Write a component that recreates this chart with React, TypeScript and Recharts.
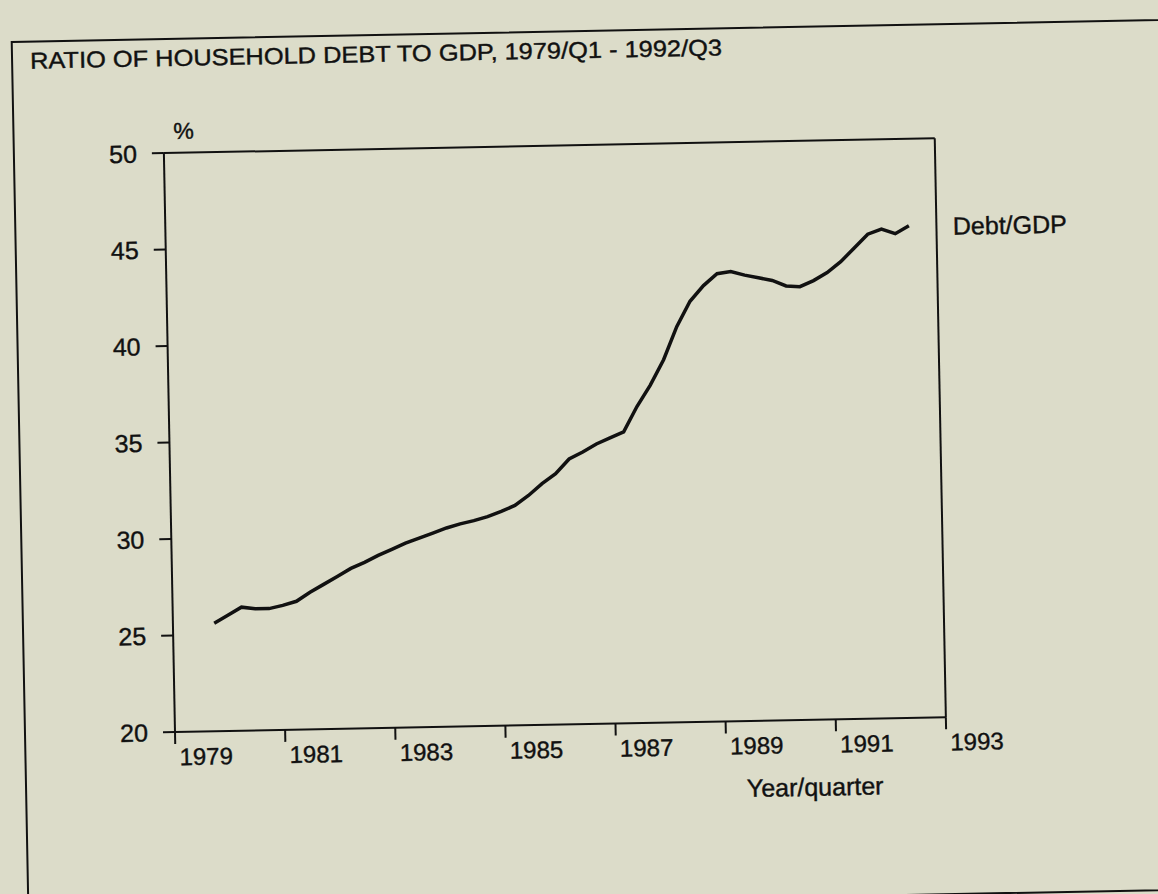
import { LineChart, Line, XAxis, YAxis, ReferenceLine } from "recharts"

const FONT = '"Liberation Sans", Arial, Helvetica, sans-serif'
const INK = "#111111"
const PAPER = "#dcdcc9"

const quarters = [
  "1979Q4",
  "1980Q1", "1980Q2", "1980Q3", "1980Q4",
  "1981Q1", "1981Q2", "1981Q3", "1981Q4",
  "1982Q1", "1982Q2", "1982Q3", "1982Q4",
  "1983Q1", "1983Q2", "1983Q3", "1983Q4",
  "1984Q1", "1984Q2", "1984Q3", "1984Q4",
  "1985Q1", "1985Q2", "1985Q3", "1985Q4",
  "1986Q1", "1986Q2", "1986Q3", "1986Q4",
  "1987Q1", "1987Q2", "1987Q3", "1987Q4",
  "1988Q1", "1988Q2", "1988Q3", "1988Q4",
  "1989Q1", "1989Q2", "1989Q3", "1989Q4",
  "1990Q1", "1990Q2", "1990Q3", "1990Q4",
  "1991Q1", "1991Q2", "1991Q3", "1991Q4",
  "1992Q1", "1992Q2", "1992Q3",
]

// household debt as % of GDP
const debtToGdp = [
  25.6,
  26.0, 26.4, 26.3, 26.3,
  26.45, 26.65, 27.1, 27.5,
  27.9, 28.3, 28.6, 28.95,
  29.25, 29.55, 29.8, 30.05,
  30.3, 30.5, 30.65, 30.85,
  31.1, 31.4, 31.9, 32.5,
  33.0, 33.75, 34.1, 34.5,
  34.8, 35.1, 36.4, 37.5,
  38.8, 40.5, 41.8, 42.6,
  43.2, 43.3, 43.1, 42.95,
  42.8, 42.5, 42.45, 42.75,
  43.15, 43.7, 44.4, 45.1,
  45.35, 45.1, 45.5,
]

const yearTicks = [1979, 1981, 1983, 1985, 1987, 1989, 1991, 1993]
const pctTicks = [20, 25, 30, 35, 40, 45, 50]

const data = quarters.map((q, i) => {
  const [yr, qq] = q.split("Q")
  return { t: Number(yr) + (Number(qq) - 1) / 4, quarter: q, debt: debtToGdp[i] }
})

// scanned print looks a little heavier than plain Liberation Sans
const inkText = { fill: INK, stroke: INK, strokeWidth: 0.4, fontFamily: FONT }

const YearTick = (props: any) => {
  const { x, y, payload } = props
  return (
    <text x={x + 4} y={y} dy="0.72em" fontSize={24} {...inkText}>
      {payload.value}
    </text>
  )
}

const PctTick = (props: any) => {
  const { x, y, payload } = props
  return (
    <text x={x} y={y} dy="0.36em" textAnchor="end" fontSize={25} {...inkText}>
      {payload.value}
    </text>
  )
}

const EndLabel = (props: any) => {
  const { x, y, index } = props
  if (index !== data.length - 1) return null
  return (
    <text x={x + 44} y={y + 10} fontSize={25} {...inkText}>
      Debt/GDP
    </text>
  )
}

export default function App() {
  return (
    <div
      style={{
        position: "absolute",
        left: 0,
        top: 0,
        width: 1158,
        height: 894,
        overflow: "hidden",
        background: PAPER,
      }}
    >
      <div
        style={{
          position: "absolute",
          left: 0,
          top: 0,
          width: 1158,
          height: 894,
          transform: "rotate(-1.1deg)",
          transformOrigin: "175px 732px",
        }}
      >
        <LineChart
          width={1158}
          height={894}
          data={data}
          margin={{ top: 153, right: 212, bottom: 122, left: 115 }}
        >
          <XAxis
            dataKey="t"
            type="number"
            domain={[1979, 1993]}
            ticks={yearTicks}
            interval={0}
            height={40}
            tick={<YearTick />}
            tickSize={12}
            tickMargin={4}
            stroke={INK}
            strokeWidth={2}
            tickLine={{ stroke: INK, strokeWidth: 2 }}
            axisLine={{ stroke: INK, strokeWidth: 2 }}
          />
          <YAxis
            type="number"
            domain={[20, 50]}
            ticks={pctTicks}
            interval={0}
            width={60}
            tickSize={12}
            tickMargin={15}
            tick={<PctTick />}
            stroke={INK}
            strokeWidth={2}
            tickLine={{ stroke: INK, strokeWidth: 2 }}
            axisLine={{ stroke: INK, strokeWidth: 2 }}
          />
          <ReferenceLine y={50} stroke={INK} strokeWidth={2} />
          <ReferenceLine x={1993} stroke={INK} strokeWidth={2} />
          <Line
            dataKey="debt"
            type="linear"
            stroke={INK}
            strokeWidth={3.5}
            dot={false}
            label={<EndLabel />}
            isAnimationActive={false}
          />
        </LineChart>
        <svg
          width={1158}
          height={894}
          style={{ position: "absolute", left: 0, top: 0, pointerEvents: "none", overflow: "visible" }}
        >
          <rect x={25} y={39} width={1300} height={870} fill="none" stroke={INK} strokeWidth={2} />
          <text
            x={43}
            y={66}
            fontSize={23}
            {...inkText}
            textLength={692}
            lengthAdjust="spacingAndGlyphs"
          >
            RATIO OF HOUSEHOLD DEBT TO GDP, 1979/Q1 - 1992/Q3
          </text>
          <text x={195} y={139} fontSize={23} textAnchor="middle" {...inkText}>
            %
          </text>
          <text x={814} y={808} fontSize={25} textAnchor="middle" {...inkText}>
            Year/quarter
          </text>
        </svg>
      </div>
    </div>
  )
}
